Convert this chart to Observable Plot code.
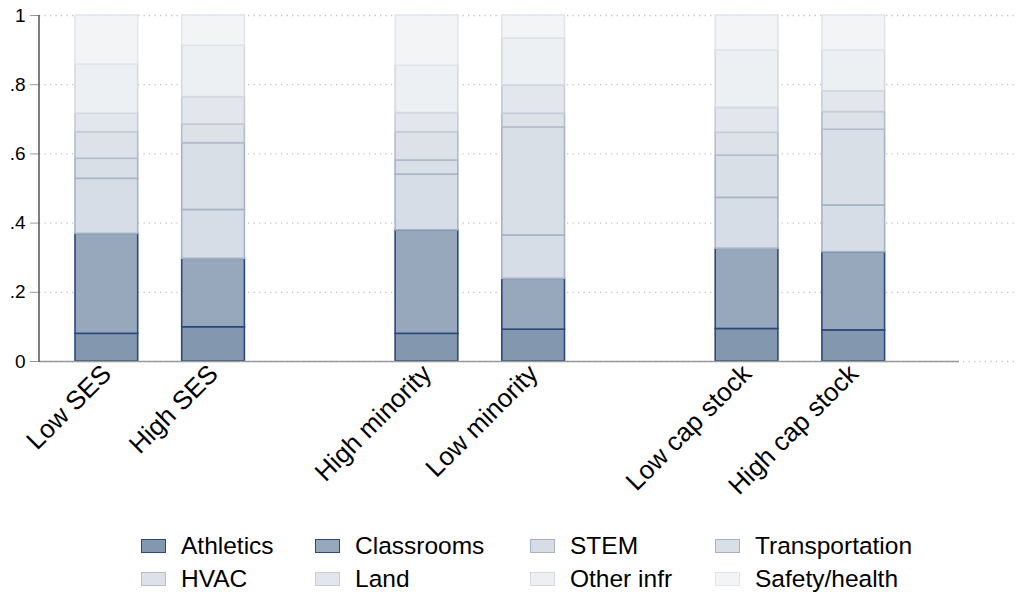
<!DOCTYPE html>
<html>
<head>
<meta charset="utf-8">
<script src="https://cdn.jsdelivr.net/npm/d3@7"></script>
<script src="https://cdn.jsdelivr.net/npm/@observablehq/plot@0.6"></script>
<style>
  html, body { margin: 0; padding: 0; background: #fff; }
  body { width: 1020px; height: 592px; overflow: hidden; font-family: "Liberation Sans", Arial, Helvetica, sans-serif; }
  #legend { position: relative; height: 72px; display: grid; grid-template-columns: 174px 215px 185px 220px; grid-auto-rows: 33px; padding-left: 141px; padding-top: 9px; box-sizing: border-box; }
  .item { display: flex; align-items: center; font-size: 24.5px; color: #000; white-space: nowrap; }
  .sw { width: 23px; height: 12px; margin-right: 15px; flex: none; }
</style>
</head>
<body>
<div id="chart"></div>
<div id="legend"></div>
<script>
const groups = ["Low SES", "High SES", "High minority", "Low minority", "Low cap stock", "High cap stock"];
const slots = ["Low SES", "High SES", " ", "High minority", "Low minority", "  ", "Low cap stock", "High cap stock"];
const categories = ["Athletics", "Classrooms", "STEM", "Transportation", "HVAC", "Land", "Other infr", "Safety/health"];

const athletics      = [0.080, 0.099, 0.080, 0.092, 0.094, 0.090];
const classrooms     = [0.289, 0.198, 0.299, 0.147, 0.232, 0.226];
const stem           = [0.159, 0.141, 0.161, 0.125, 0.147, 0.135];
const transportation = [0.058, 0.193, 0.041, 0.313, 0.122, 0.219];
const hvac           = [0.077, 0.054, 0.082, 0.039, 0.066, 0.051];
const land           = [0.053, 0.079, 0.055, 0.082, 0.072, 0.060];
const otherInfr      = [0.142, 0.149, 0.137, 0.136, 0.166, 0.118];
const safetyHealth   = [0.142, 0.087, 0.145, 0.066, 0.101, 0.101];

const series = [athletics, classrooms, stem, transportation, hvac, land, otherInfr, safetyHealth];
const fills   = ["#8397af", "#97a7bc", "#d6dde6", "#d8dfe7", "#dde2e9", "#e3e7ed", "#edf0f3", "#f3f4f6"];
const strokes = ["#2a4a7c", "#2a4a7c", "#a6b3c5", "#a6b3c5", "#b3bdcb", "#c5cdd8", "#d4dae2", "#e2e6eb"];
const yTicks = [0, 0.2, 0.4, 0.6, 0.8, 1];

const rows = [];
groups.forEach((g, gi) => {
  categories.forEach((c, ci) => {
    rows.push({group: g, cat: c, value: series[ci][gi], fill: fills[ci], stroke: strokes[ci]});
  });
});

const fmt = d => d === 0 ? "0" : d === 1 ? "1" : d3.format(".1f")(d).replace(/^0/, "");

const chart = Plot.plot({
  width: 1020,
  height: 520,
  marginLeft: 39,
  marginRight: 5,
  marginTop: 15,
  marginBottom: 159,
  style: {fontFamily: "Liberation Sans, Arial, Helvetica, sans-serif", background: "#fff"},
  x: {type: "band", domain: slots, range: [53, 906.6], paddingInner: 0.4124, paddingOuter: 0.2062, round: false, label: null},
  y: {domain: [0, 1], label: null},
  marks: [
    Plot.gridY(yTicks, {stroke: "#c4c4c4", strokeOpacity: 1, strokeWidth: 1.3, strokeDasharray: "1.3,4.2"}),
    Plot.barY(rows, {x: "group", y: "value", fill: "fill", stroke: "stroke", strokeWidth: 1.6}),
    Plot.ruleY([0], {stroke: "#9a9a9a", strokeWidth: 1.6, insetRight: 56}),
    Plot.axisY(yTicks, {tickFormat: fmt, tickSize: 9, tickPadding: 5, fontSize: 19, stroke: "#9a9a9a", color: "#000", label: null}),
    Plot.axisX(groups, {tickSize: 0, tickPadding: 8, tickRotate: -45, fontSize: 26, label: null, color: "#000"})
  ]
});

// vertical y-axis line drawn from the y scale
const ys = chart.scale("y");
d3.select(chart).append("line")
  .attr("x1", 39).attr("x2", 39)
  .attr("y1", ys.apply(1)).attr("y2", ys.apply(0) + 0.8)
  .attr("stroke", "#555").attr("stroke-width", 1.5);

document.getElementById("chart").appendChild(chart);

const legend = document.getElementById("legend");
categories.forEach((c, i) => {
  const it = document.createElement("div");
  it.className = "item";
  const sw = document.createElement("span");
  sw.className = "sw";
  sw.style.background = fills[i];
  sw.style.border = "1.6px solid " + strokes[i];
  it.appendChild(sw);
  it.appendChild(document.createTextNode(c));
  legend.appendChild(it);
});
</script>
</body>
</html>
